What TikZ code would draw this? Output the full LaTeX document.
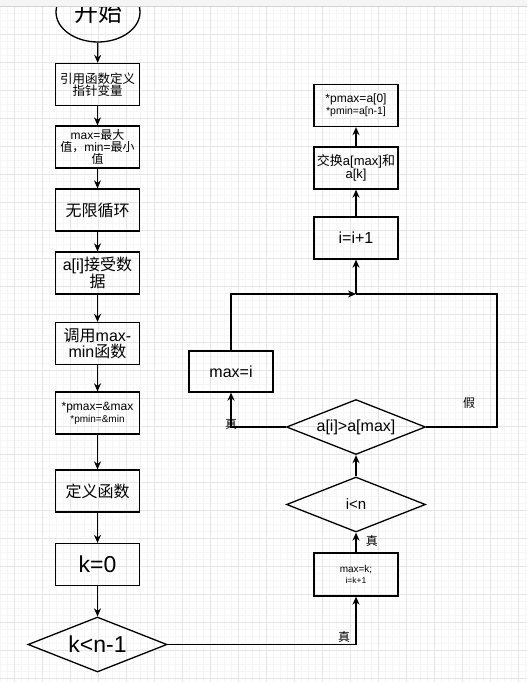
\documentclass[tikz,border=0pt]{standalone}
\usepackage{fontspec}
\setmainfont{Liberation Sans}
\newfontfamily\cjk{Noto Sans CJK SC}
\usetikzlibrary{shapes.geometric, arrows.meta, positioning}

\newcommand{\fs}[1]{\fontsize{#1}{#1}\selectfont}

\begin{document}
\begin{tikzpicture}[x=1pt, y=-1pt,
  box/.style={draw, line width=1.3pt, minimum width=84pt, minimum height=42pt, inner sep=1pt, align=center},
  dec/.style={draw, diamond, aspect=2.5, line width=1.3pt, minimum width=139pt, minimum height=55pt, inner sep=0pt, align=center},
  arrow/.style={-{Stealth[length=8pt, width=7pt]}, line width=1.3pt},
  lbl/.style={font=\fs{12}\cjk}
]
  \useasboundingbox (0,0) rectangle (527,682);
  % Grid
  \fill[white] (0,0) rectangle (527,682);
  \foreach \x in {0,7,...,527} \draw[gray!7, line width=0.5pt] (\x,0) -- (\x,682);
  \foreach \y in {6,13,...,682} \draw[gray!7, line width=0.5pt] (0,\y) -- (527,\y);
  \foreach \x in {14,42,...,527} \draw[gray!20, line width=0.7pt] (\x,0) -- (\x,682);
  \foreach \y in {6,34,...,682} \draw[gray!20, line width=0.7pt] (0,\y) -- (527,\y);

  % Main column
  \node[draw, ellipse, line width=1.3pt, minimum width=84pt, minimum height=60pt, font=\fs{24}\cjk] (start) at (98,12) {开始};
  \node[box, font=\fs{12.5}\cjk] (decl) at (97.5,84.5) {引用函数定义\\指针变量};
  \node[box, font=\fs{12}, inner sep=0pt] (init) at (97.5,147) {max={\cjk 最大}\\{\cjk 值，}min={\cjk 最小}\\{\cjk 值}};
  \node[box, font=\fs{16}\cjk] (loop) at (97.5,210) {无限循环};
  \node[box, font=\fs{16}] (input) at (97.5,273) {a[i]{\cjk 接受数}\\{\cjk 据}};
  \node[box, font=\fs{16}] (call) at (97.5,343.5) {{\cjk 调用}max-\\min{\cjk 函数}};
  \node[box] (ptr) at (97.5,413) {{\fs{12}*pmax=\&max}\\{\fs{10}*pmin=\&min}};
  \node[box, font=\fs{16}\cjk] (func) at (97.5,491) {定义函数};
  \node[box, font=\fs{23}] (kzero) at (97.5,564.5) {k=0};
  \node[dec, font=\fs{23}] (kcond) at (97.5,644.5) {k<n-1};

  \draw[arrow] (start) -- (decl);
  \draw[arrow] (decl) -- (init);
  \draw[arrow] (init) -- (loop);
  \draw[arrow] (loop) -- (input);
  \draw[arrow] (input) -- (call);
  \draw[arrow] (call) -- (ptr);
  \draw[arrow] (ptr) -- (func);
  \draw[arrow] (func) -- (kzero);
  \draw[arrow] (kzero) -- (kcond);

  % Sort column
  \node[box, minimum height=43pt] (setmax) at (356,574.5) {{\fs{10}max=k;}\\[-1pt]{\fs{8.5}i=k+1}};
  \node[dec, font=\fs{15}] (icond) at (356,504.5) {i<n};
  \node[dec, font=\fs{16}] (cmp) at (356,427) {a[i]>a[max]};
  \node[box, minimum height=41pt, font=\fs{16}] (newmax) at (231,371.5) {max=i};
  \coordinate (join) at (356,294);
  \coordinate (rt) at (497,294);
  \node[box, font=\fs{16}] (inc) at (356,238) {i=i+1};
  \node[box, font=\fs{13}] (swap) at (356,168) {{\cjk 交换}a[max]{\cjk 和}\\a[k]};
  \node[box] (out) at (356,105.5) {{\fs{12}*pmax=a[0]}\\{\fs{10.5}*pmin=a[n-1]}};

  \draw[arrow] (kcond.east) -| (setmax.south) node[pos=0.5, lbl, above left, xshift=-2pt, yshift=-2pt] {真};
  \draw[arrow] (setmax) -- (icond) node[midway, lbl, right, xshift=6pt, yshift=2pt] {真};
  \draw[arrow] (icond) -- (cmp);
  \draw[arrow] (cmp.west) -| (newmax.south) node[pos=0.5, lbl, yshift=3pt] {真};
  \draw[arrow] (newmax.north) |- (join);
  \draw[line width=1.3pt] (cmp.east) -| (rt) -- (join);
  \node[lbl] (no) at (469,403) {假};
  \draw[arrow] (join) -- (inc);
  \draw[arrow] (inc) -- (swap);
  \draw[arrow] (swap) -- (out);

  % Top bar
  \fill[gray!8] (0,0) rectangle (527,6);
  \draw[gray!35, line width=0.6pt] (0,6) -- (527,6);
\end{tikzpicture}
\end{document}
